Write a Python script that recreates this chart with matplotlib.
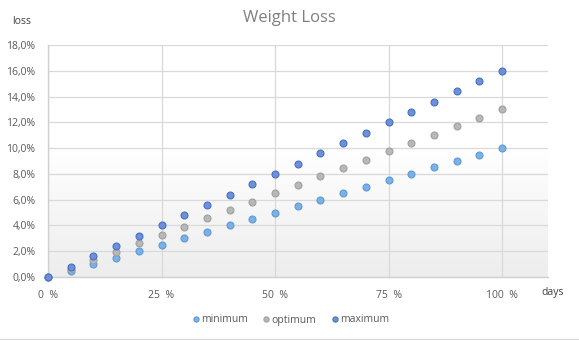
import matplotlib
matplotlib.use("Agg")
import matplotlib.pyplot as plt
import numpy as np
from matplotlib.colors import LinearSegmentedColormap

days = [0, 5, 10, 15, 20, 25, 30, 35, 40, 45, 50, 55, 60, 65, 70, 75, 80, 85, 90, 95, 100]
minimum = [0.0, 0.5, 1.0, 1.5, 2.0, 2.5, 3.0, 3.5, 4.0, 4.5, 5.0, 5.5, 6.0, 6.5, 7.0, 7.5, 8.0, 8.5, 9.0, 9.5, 10.0]
optimum = [0.0, 0.65, 1.3, 1.95, 2.6, 3.25, 3.9, 4.55, 5.2, 5.85, 6.5, 7.15, 7.8, 8.45, 9.1, 9.75, 10.4, 11.05, 11.7, 12.35, 13.0]
maximum = [0.0, 0.8, 1.6, 2.4, 3.2, 4.0, 4.8, 5.6, 6.4, 7.2, 8.0, 8.8, 9.6, 10.4, 11.2, 12.0, 12.8, 13.6, 14.4, 15.2, 16.0]
x_ticks = [0, 25, 50, 75, 100]
x_labels = ["0  %", "25  %", "50  %", "75  %", "100  %"]
y_ticks = [0, 2, 4, 6, 8, 10, 12, 14, 16, 18]

plt.rcParams['font.family'] = ['Open Sans', 'DejaVu Sans']

fig = plt.figure(figsize=(5.79, 3.40), dpi=100)
ax = fig.add_axes([48/579, 1-277/340, 500/579, 232/340])

# gradient background
grad = np.linspace(0, 1, 256).reshape(-1, 1)
cmap = LinearSegmentedColormap.from_list("g", [(0, "#ededed"), (0.55, "#ffffff"), (1, "#ffffff")])
ax.imshow(grad, extent=[0, 110.1, 0, 18], origin="lower", aspect="auto", cmap=cmap, zorder=0)

ax.set_xlim(0, 110.1)
ax.set_ylim(0, 18)
ax.set_xticks(x_ticks)
ax.set_xticklabels(x_labels)
ax.set_yticks(y_ticks)
ax.set_yticklabels([f"{v:.1f}%".replace(".", ",") for v in y_ticks])
ax.grid(True, color="#d9d9d9", linewidth=0.9, zorder=1)
ax.tick_params(length=0, labelsize=7.5, colors="#595959")
ax.tick_params(axis="y", pad=9)
ax.tick_params(axis="x", pad=9)
for s in ["top", "right"]:
    ax.spines[s].set_visible(False)
for s in ["left", "bottom"]:
    ax.spines[s].set_color("#d0d0d0")
    ax.spines[s].set_linewidth(1.0)

ms = 5.0
ax.plot(days, minimum, "o", ms=ms, mfc="#7eb0e6", mec="#5b9bd5", mew=0.8, label="minimum", zorder=3, clip_on=False)
ax.plot(days, optimum, "o", ms=ms, mfc="#b8b8b8", mec="#a0a0a0", mew=0.8, label="optimum", zorder=3, clip_on=False)
ax.plot(days, maximum, "o", ms=ms, mfc="#6f8fd8", mec="#4472c4", mew=0.8, label="maximum", zorder=3, clip_on=False)

fig.text(289/579, 1-18/340, "Weight Loss", ha="center", va="center", fontsize=12, color="#7f7f7f")
fig.text(22/579, 1-22/340, "loss", ha="center", va="center", fontsize=7.5, color="#404040")
fig.text(553/579, 1-292/340, "days", ha="center", va="center", fontsize=7.5, color="#404040")

leg = ax.legend(loc="center", bbox_to_anchor=(291/579, 1-320/340), bbox_transform=fig.transFigure,
                ncol=3, frameon=False, fontsize=7.5, handlelength=0.6, handletextpad=0.2,
                columnspacing=1.5, markerscale=0.75)
for t in leg.get_texts():
    t.set_color("#595959")

fig.add_artist(plt.Line2D([0, 1], [1.5/340, 1.5/340], color="#d9d9d9", lw=1, transform=fig.transFigure))

fig.savefig("out.png", dpi=100)
